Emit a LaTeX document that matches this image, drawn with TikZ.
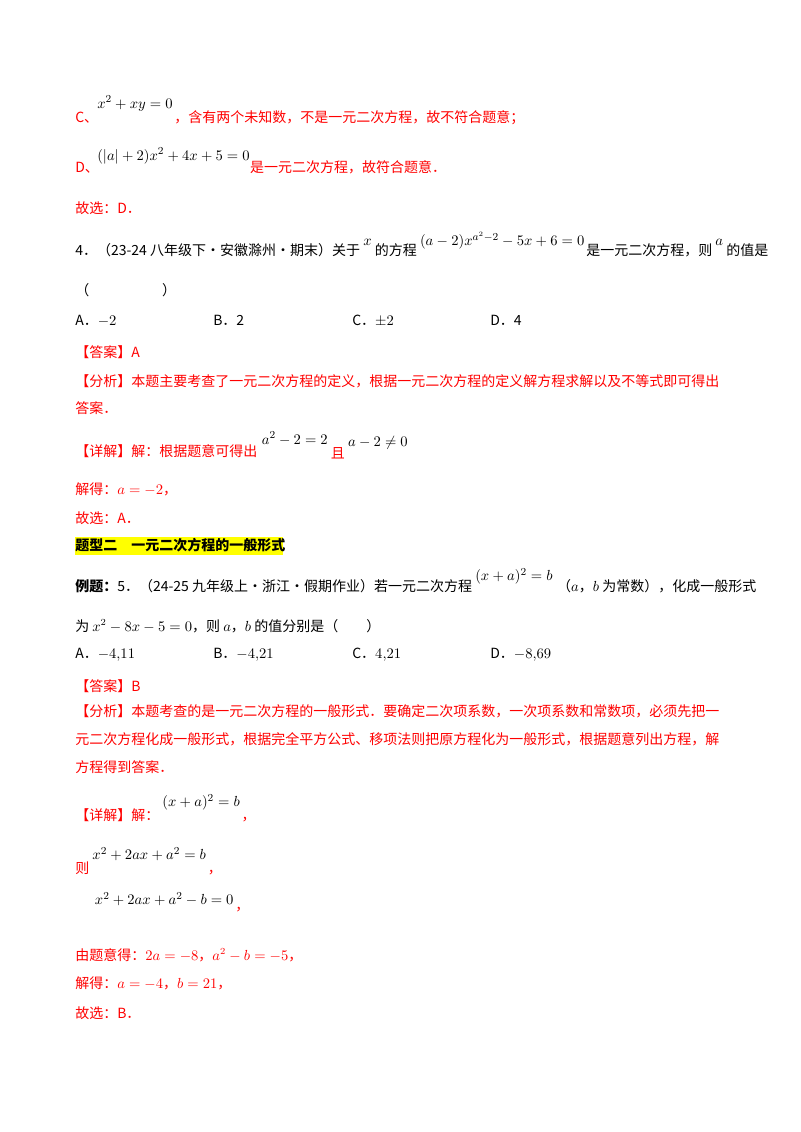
\documentclass[tikz,border=0pt]{standalone}
\usepackage{fontspec}
\setmainfont{Liberation Serif}
\newfontfamily\cjk{Noto Sans CJK SC}
\usepackage{amssymb}
\definecolor{rd}{RGB}{255,0,0}
\definecolor{hl}{RGB}{255,255,0}
\begin{document}
\begin{tikzpicture}[x=0.75pt,y=-0.75pt,
 t/.style={anchor=base west,inner sep=0,font=\fontsize{10.5}{12}\selectfont\cjk},
 r/.style={t,text=rd},
 m/.style={anchor=base west,inner sep=0,font=\fontsize{11}{12}\selectfont}]
\useasboundingbox[fill=white] (0,0) rectangle (800,1132);
% C, D
\node[r] (c1) at (75,122) {C、};
\node[m] (c2) at (97,108) {$x^2+xy=0$};
\node[r] (c3) at ([xshift=1pt,yshift=-10.5pt]c2.base east) {，含有两个未知数，不是一元二次方程，故不符合题意；};
\node[r] (d1) at (75,172) {D、};
\node[m] (d2) at (97,160) {$(|a|+2)x^2+4x+5=0$};
\node[r] (d3) at (d2.base east) [yshift=-9pt] {是一元二次方程，故符合题意．};
\node[r] (g1) at (75,213) {故选：D．};
% Q4
\node[t] (q4a) at (75,255) {4．（23-24 八年级下·安徽滁州·期末）关于};
\node[m] (q4x) at ([xshift=2pt,yshift=7pt]q4a.base east) {$x$};
\node[t] (q4b) at ([xshift=2pt,yshift=-7pt]q4x.base east) {的方程};
\node[m] (q4e) at ([xshift=2pt,yshift=7pt]q4b.base east) {$(a-2)x^{a^2-2}-5x+6=0$};
\node[t] (q4c) at ([xshift=1pt,yshift=-7pt]q4e.base east) {是一元二次方程，则};
\node[m] (q4y) at ([xshift=2pt,yshift=7pt]q4c.base east) {$a$};
\node[t] (q4d) at ([xshift=2pt,yshift=-7pt]q4y.base east) {的值是};
\node[t] (q4p) at (75,295) {（\hspace{5.2em}）};
\node[t] (o1) at (75,325) {A．$-2$};
\node[t] (o2) at (213,325) {B．2};
\node[t] (o3) at (352,325) {C．$\pm2$};
\node[t] (o4) at (490,325) {D．4};
\node[r] (ans) at (75,357) {【答案】A};
\node[r] (an1) at (75,386) {【分析】本题主要考查了一元二次方程的定义，根据一元二次方程的定义解方程求解以及不等式即可得出};
\node[r] (an2) at (75,413) {答案．};
\node[r] (de1) at (75,456) {【详解】解：根据题意可得出};
\node[m] (de2) at ([xshift=3pt,yshift=9pt]de1.base east) {$a^2-2=2$};
\node[r] (de3) at ([xshift=2pt,yshift=-11pt]de2.base east) {且};
\node[m] (de4) at ([xshift=2pt,yshift=9pt]de3.base east) {$a-2\neq0$};
\node[r] (jd) at (75,494) {解得：$a=-2$，};
\node[r] (g2) at (75,523) {故选：A．};
% heading
\fill[hl] (75,537) rectangle (283,555);
\node[t,font=\fontsize{10.5}{12}\selectfont\cjk\bfseries] (h) at (75,550) {题型二\hspace{1em}一元二次方程的一般形式};
% Q5
\node[t] (q5a) at (75,591) {{\bfseries 例题：}5．（24-25 九年级上·浙江·假期作业）若一元二次方程};
\node[m] (q5e) at ([xshift=2pt,yshift=8pt]q5a.base east) {$(x+a)^2=b$};
\node[t] (q5b) at ([xshift=3pt,yshift=-8pt]q5e.base east) {（$a$，$b$ 为常数），化成一般形式};
\node[t] (q5c) at (75,631) {为 $x^2-8x-5=0$，则 $a$，$b$ 的值分别是（\hspace{2em}）};
\node[t] (p1) at (75,658) {A．$-4{,}11$};
\node[t] (p2) at (213,658) {B．$-4{,}21$};
\node[t] (p3) at (352,658) {C．$4{,}21$};
\node[t] (p4) at (490,658) {D．$-8{,}69$};
\node[r] (ans2) at (75,691) {【答案】B};
\node[r] (b1) at (75,716) {【分析】本题考查的是一元二次方程的一般形式．要确定二次项系数，一次项系数和常数项，必须先把一};
\node[r] (b2) at (75,744) {元二次方程化成一般形式，根据完全平方公式、移项法则把原方程化为一般形式，根据题意列出方程，解};
\node[r] (b3) at (75,772) {方程得到答案．};
\node[r] (e1) at (75,820) {【详解】解：};
\node[m] (e2) at ([xshift=2pt,yshift=10pt]e1.base east) {$(x+a)^2=b$};
\node[r] (e3) at ([xshift=1pt,yshift=-10pt]e2.base east) {，};
\node[r] (f1) at (75,873) {则};
\node[m] (f2) at ([xshift=2pt,yshift=10pt]f1.base east) {$x^2+2ax+a^2=b$};
\node[r] (f3) at ([xshift=1pt,yshift=-10pt]f2.base east) {，};
\node[r,font=\fontsize{12}{12}\selectfont\bfseries] (k1) at (75,910) {∴};
\node[m] (k2) at ([xshift=5pt,yshift=4pt]k1.base east) {$x^2+2ax+a^2-b=0$};
\node[r] (k3) at ([xshift=1pt,yshift=-4pt]k2.base east) {，};
\node[r] (y1) at (75,960) {由题意得：$2a=-8$，$a^2-b=-5$，};
\node[r] (y2) at (75,988) {解得：$a=-4$，$b=21$，};
\node[r] (g3) at (75,1018) {故选：B．};
\end{tikzpicture}
\end{document}
